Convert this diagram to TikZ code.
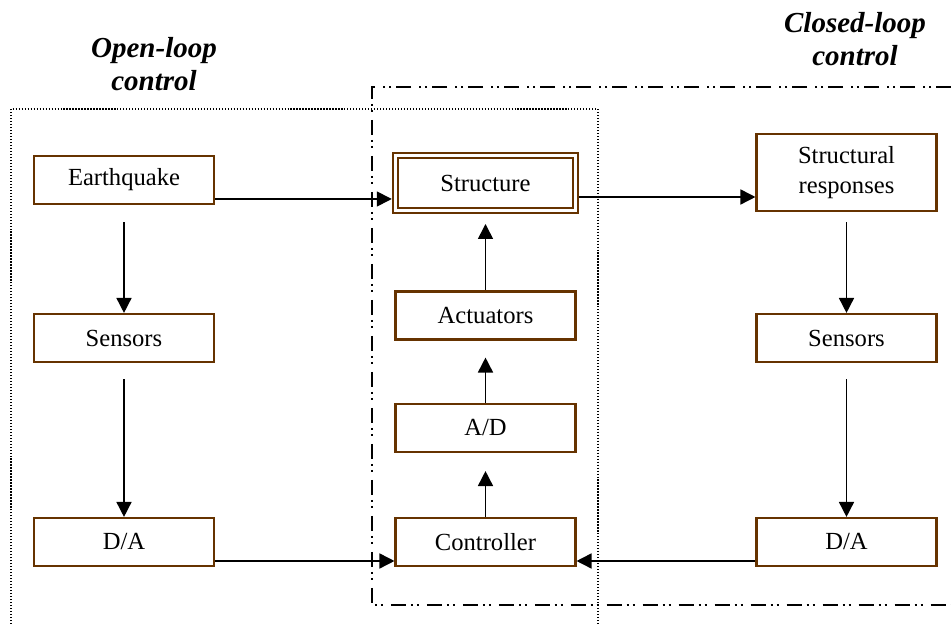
\documentclass[tikz,border=0pt]{standalone}
\usepackage{fontspec}
\setmainfont{Liberation Serif}
\usepackage{xcolor}
\usepackage{tikz}
\usetikzlibrary{shapes,arrows.meta,positioning}
\usetikzlibrary{calc}
\definecolor{boxbrown}{RGB}{102,51,0}

\begin{document}
\begin{tikzpicture}
  [
    x=0.02cm, y=-0.02cm,
    >={Triangle[length=0.3cm, width=0.3cm]},
    Block/.style={rectangle, draw=boxbrown, line width=1.2pt, fill=white, minimum width=3.6cm, minimum height=0.96cm, inner sep=0pt, font=\fontsize{14}{17}\selectfont},
    Plant/.style={Block, double=white, double distance=0.06cm, line width=0.04cm, outer sep=0.07cm, minimum width=3.61cm, minimum height=1.1cm},
    Tall/.style={Block, minimum height=1.54cm, align=center},
    Title/.style={inner sep=0pt, align=center, font=\fontsize{16.5}{19}\selectfont\bfseries\itshape},
    Line/.style={draw, line width=0.9pt},
    DotFrame/.style={line width=0.7pt, dash pattern=on 0.7pt off 1pt},
    DashFrame/.style={line width=1pt, dash pattern=on 0.3cm off 0.1cm on 0.04cm off 0.08cm on 0.04cm off 0.16cm}
  ]
  \useasboundingbox (0,0) rectangle (951,624);

  % Frames
  \draw[DotFrame] (11,624) |- (598,109) -- (598,624);
  \draw[DashFrame] (951,87) -| (372,605) -- (951,605);

  % Titles
  \node[Title] (t1) at (154, 64) {Open-loop\\control};
  \node[Title] (t2) at (855, 39) {Closed-loop\\control};

  % Nodes
  \node[Block] (v1) at (124, 180) {Earthquake};

  \node[Block] (v2) at (124, 338) {Sensors};

  \node[Block] (v3) at (124, 542) {D/A};

  \node[Plant] (v4) at (485.5, 183) {Structure};

  \node[Block] (v5) at (485.5, 315.5) {Actuators};

  \node[Block] (v6) at (485.5, 428) {A/D};

  \node[Block] (v7) at (485.5, 542) {Controller};

  \node[Tall] (v8) at (846.5, 172.5) {Structural\\responses};

  \node[Block] (v9) at (846.5, 338) {Sensors};

  \node[Block] (v10) at (846.5, 542) {D/A};


  % Lines
  \path [<-, Line, shorten >=0.34cm] (v2) -- (v1);
  \path [<-, Line, shorten >=0.32cm] (v3) -- (v2);
  \path [<-, Line, shorten <=0.2cm] (v4) -- (v5);
  \path [<-, Line, shorten <=0.34cm] (v5) -- (v6);
  \path [<-, Line, shorten <=0.36cm] (v6) -- (v7);
  \path [<-, Line, shorten >=0.2cm] (v9) -- (v8);
  \path [<-, Line, shorten >=0.32cm] (v10) -- (v9);
  \path [<-, Line] ($(v4.west)+(0,16)$) -- ($(v1.east)+(0,19)$);
  \path [<-, Line] ($(v8.west)+(0,24.5)$) -- ($(v4.east)+(0,14)$);
  \path [<-, Line] ($(v7.west)+(0,19)$) -- ($(v3.east)+(0,19)$);
  \path [<-, Line] ($(v7.east)+(0,19)$) -- ($(v10.west)+(0,19)$);

\end{tikzpicture}
\end{document}
